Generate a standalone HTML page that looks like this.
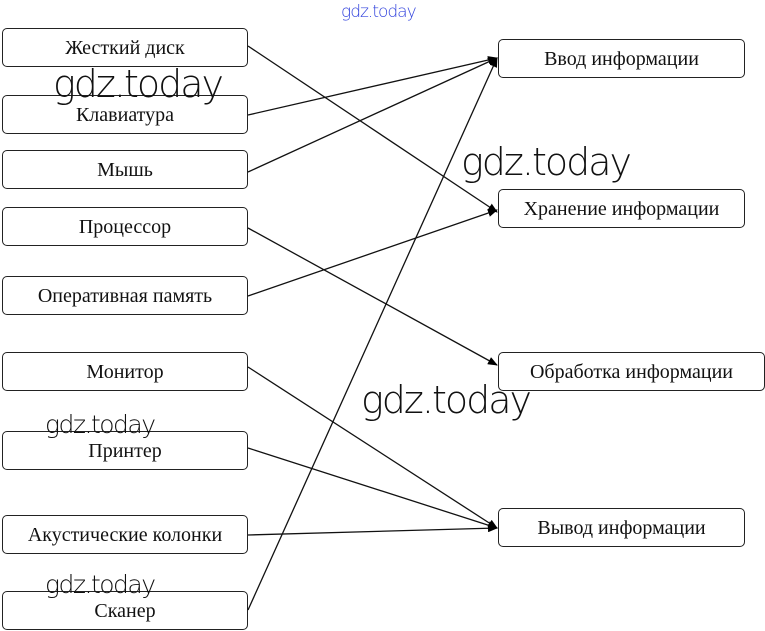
<!DOCTYPE html>
<html><head><meta charset="utf-8"><style>
body{margin:0;width:765px;height:631px;background:#fff;position:relative;overflow:hidden;font-family:"Liberation Serif",serif;}
.b{position:absolute;border:1.5px solid #222;border-radius:5px;box-sizing:border-box;display:flex;align-items:center;justify-content:center;font-size:20px;color:#111;background:transparent;padding-top:2px}
.w{position:absolute;font-family:"DejaVu Sans","Liberation Sans",sans-serif;color:#111;font-weight:200;letter-spacing:-2px}
svg{position:absolute;left:0;top:0}
</style></head><body>
<div class="b" style="left:2px;top:28px;width:246px;height:39px">Жесткий диск</div>
<div class="b" style="left:2px;top:95px;width:246px;height:39px">Клавиатура</div>
<div class="b" style="left:2px;top:150px;width:246px;height:39px">Мышь</div>
<div class="b" style="left:2px;top:207px;width:246px;height:39px">Процессор</div>
<div class="b" style="left:2px;top:276px;width:246px;height:39px">Оперативная память</div>
<div class="b" style="left:2px;top:352px;width:246px;height:39px">Монитор</div>
<div class="b" style="left:2px;top:431px;width:246px;height:39px">Принтер</div>
<div class="b" style="left:2px;top:515px;width:246px;height:39px">Акустические колонки</div>
<div class="b" style="left:2px;top:591px;width:246px;height:39px">Сканер</div>
<div class="b" style="left:498px;top:39px;width:247px;height:39px">Ввод информации</div>
<div class="b" style="left:498px;top:189px;width:247px;height:39px">Хранение информации</div>
<div class="b" style="left:498px;top:352px;width:267px;height:39px">Обработка информации</div>
<div class="b" style="left:498px;top:508px;width:247px;height:39px">Вывод информации</div>
<svg width="765" height="631">
<defs><marker id="a" markerWidth="10" markerHeight="8" refX="9" refY="4" orient="auto" markerUnits="userSpaceOnUse"><path d="M0,0 L10,4 L0,8 z" fill="#000"/></marker></defs>
<g stroke="#111" stroke-width="1.3" fill="none" marker-end="url(#a)">
<line x1="248" y1="46" x2="497" y2="212"/>
<line x1="248" y1="115" x2="497" y2="58"/>
<line x1="248" y1="172" x2="497" y2="58"/>
<line x1="248" y1="228" x2="497" y2="365"/>
<line x1="248" y1="296" x2="497" y2="210"/>
<line x1="248" y1="367" x2="497" y2="528"/>
<line x1="248" y1="448" x2="497" y2="528"/>
<line x1="248" y1="535" x2="497" y2="528"/>
<line x1="248" y1="610" x2="497" y2="58"/>
</g></svg>
<div class="w" style="left:341px;top:2px;font-size:17px;color:#3344dd;letter-spacing:-1px">gdz.today</div>
<div class="w" style="left:53px;top:62px;font-size:38px">gdz.today</div>
<div class="w" style="left:461px;top:140px;font-size:38px">gdz.today</div>
<div class="w" style="left:361px;top:378px;font-size:38px">gdz.today</div>
<div class="w" style="left:45px;top:410px;font-size:25px;letter-spacing:-1.5px">gdz.today</div>
<div class="w" style="left:45px;top:570px;font-size:25px;letter-spacing:-1.5px">gdz.today</div>
</body></html>
